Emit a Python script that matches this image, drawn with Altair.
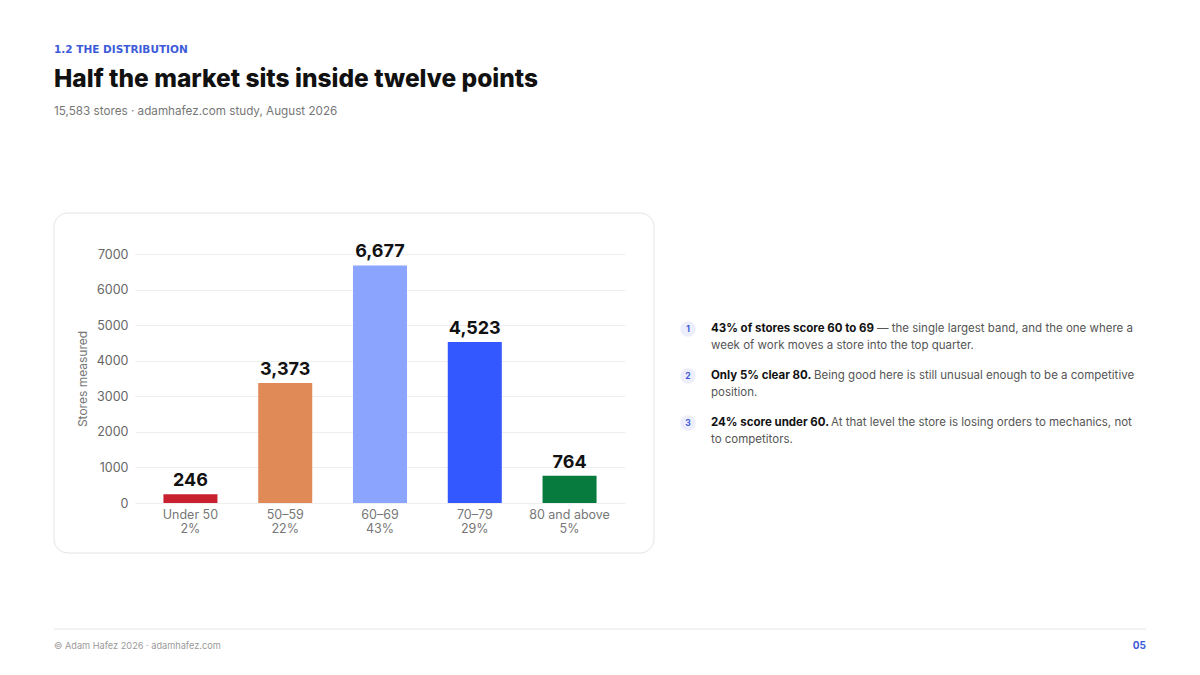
import pandas as pd
import altair as alt

# score bands and store counts
bands = ["Under 50", "50–59", "60–69", "70–79", "80 and above"]
shares = ["2%", "22%", "43%", "29%", "5%"]
stores = [246, 3373, 6677, 4523, 764]
colors = ["#C8202F", "#E08A58", "#8BA5FF", "#3358FF", "#077A3D"]

kicker = "1.2 THE DISTRIBUTION"
headline = "Half the market sits inside twelve points"
subhead = "15,583 stores · adamhafez.com study, August 2026"
footer_left = "© Adam Hafez 2026 · adamhafez.com"
page_no = "05"

note_leads = ["43% of stores score 60 to 69", "Only 5% clear 80.", "24% score under 60."]
note_rest1 = ["— the single largest band, and the one where a",
              "Being good here is still unusual enough to be a competitive",
              "At that level the store is losing orders to mechanics, not"]
note_rest2 = ["week of work moves a store into the top quarter.", "position.", "to competitors."]

FONT = "Inter"
W, H = 490, 249
# plot origin on the page is (135, 254); everything else is placed relative to it
OX, OY = 135, 254

df = pd.DataFrame({
    "band": bands,
    "xlab": [b + "\n" + s for b, s in zip(bands, shares)],
    "stores": stores,
})
one = pd.DataFrame({"k": [0]})

x_enc = alt.X("xlab:N", sort=list(df["xlab"]), title=None,
              scale=alt.Scale(paddingInner=0.43, paddingOuter=0.3),
              axis=alt.Axis(labelExpr="split(datum.label, '\\n')", labelAngle=0,
                            labelFont=FONT, labelFontSize=12.5, labelColor="#777777",
                            labelPadding=5, labelLineHeight=14, ticks=False, domain=False))
y_enc = alt.Y("stores:Q", title="Stores measured",
              scale=alt.Scale(domain=[0, 7000], nice=False),
              axis=alt.Axis(values=list(range(0, 7001, 1000)), format="d", labelOverlap=False,
                            labelFont=FONT, labelFontSize=12.5, labelColor="#666666",
                            labelPadding=7, ticks=False, domain=False,
                            gridColor="#EEEEEE", titleFont=FONT, titleFontSize=12,
                            titleFontWeight="normal", titleColor="#777777", titlePadding=7))

card = alt.Chart(one).mark_rect(cornerRadius=14, fill="white", fillOpacity=0,
                                stroke="#E4E4E4", strokeWidth=1).encode(
    x=alt.value(54 - OX), x2=alt.value(654 - OX),
    y=alt.value(213 - OY), y2=alt.value(553 - OY))

bars = alt.Chart(df).mark_bar().encode(
    x=x_enc, y=y_enc,
    color=alt.Color("band:N", scale=alt.Scale(domain=bands, range=colors), legend=None))

values = alt.Chart(df).mark_text(dy=-8, baseline="alphabetic", font=FONT, fontSize=18,
                                 fontWeight="bold", color="#111111").encode(
    x=x_enc, y=y_enc,
    text=alt.Text("stores:Q", format=","))


def label(txt, x, y, size, weight="normal", color="#111111", align="left", font=FONT):
    return alt.Chart(one).mark_text(text=txt, font=font, fontSize=size, fontWeight=weight,
                                    color=color, align=align, baseline="alphabetic").encode(
        x=alt.value(x - OX), y=alt.value(y - OY))


layers = [card, bars, values,
          label(kicker, 54, 53, 10.5, "bold", "#3D5BD9", font="DejaVu Sans"),
          label(headline, 54, 87, 24.5, 800, "#111111"),
          label(subhead, 54, 115, 11.7, "normal", "#777777")]

# right-hand notes
rest_x = [166, 103, 120]
for i in range(3):
    y0 = 332 + i * 47
    layers.append(alt.Chart(one).mark_circle(size=240, color="#ECEFFB", opacity=1).encode(
        x=alt.value(688 - OX), y=alt.value(y0 - 3 - OY)))
    layers.append(label(str(i + 1), 688, y0, 8.5, "bold", "#3D5BD9", "center"))
    layers.append(label(note_leads[i], 711, y0, 11.5, "bold", "#111111"))
    layers.append(label(note_rest1[i], 711 + rest_x[i], y0, 11.5, "normal", "#555555"))
    layers.append(label(note_rest2[i], 711, y0 + 17, 11.5, "normal", "#555555"))

# footer
layers.append(alt.Chart(one).mark_rule(color="#E6E6E6").encode(
    x=alt.value(54 - OX), x2=alt.value(1146 - OX), y=alt.value(629 - OY)))
layers.append(label(footer_left, 54, 649, 9.2, "normal", "#9A9A9A"))
layers.append(label(page_no, 1146, 649, 10, "bold", "#3D5BD9", "right"))

chart = alt.layer(*layers).properties(
    width=W, height=H,
    autosize=alt.AutoSizeParams(type="none"),
    padding={"left": OX - 8, "top": OY - 8, "right": 1184 - (OX - 8) - W, "bottom": 659 - (OY - 8) - H},
    background="white",
).configure_view(stroke=None)

chart.save("out.html", embed_options={"renderer": "svg", "actions": False})
